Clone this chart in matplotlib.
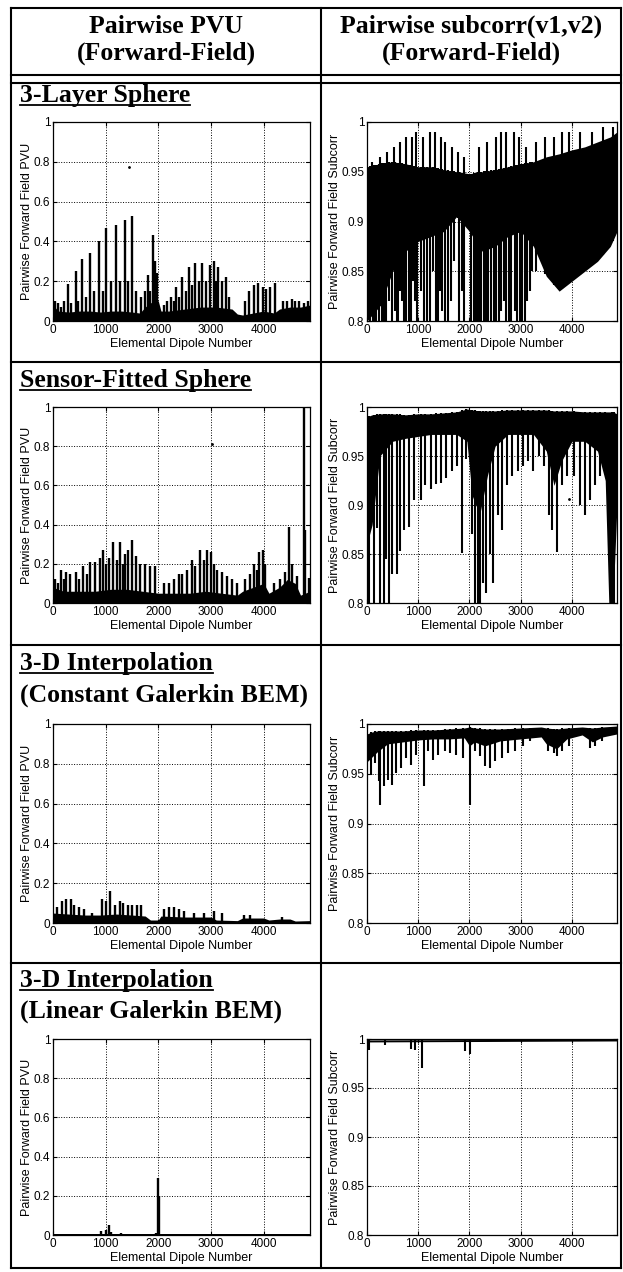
import numpy as np
import matplotlib
matplotlib.use('Agg')
import matplotlib.pyplot as plt
from matplotlib.lines import Line2D

plt.rcParams['font.family'] = ['Liberation Sans', 'DejaVu Sans']

W, H = 623, 1272

# x axis
x_max = 4880
x_ticks = [0, 1000, 2000, 3000, 4000]
x_tick_labels = ['0', '1000', '2000', '3000', '4000']
pvu_ticks = [0, 0.2, 0.4, 0.6, 0.8, 1.0]
pvu_tick_labels = ['0', '0.2', '0.4', '0.6', '0.8', '1']
sub_ticks = [0.8, 0.85, 0.9, 0.95, 1.0]
sub_tick_labels = ['0.8', '0.85', '0.9', '0.95', '1']

# ---- 3-layer sphere, PVU (dense floor + spikes) ----
l1_env_x = [0, 100, 300, 500, 700, 900, 1100, 1300, 1500, 1650, 1750, 1850, 1950, 2000, 2050,
            2200, 2500, 2800, 3100, 3400, 3500, 3600, 3800, 4000, 4200, 4300, 4500, 4700, 4880]
l1_env_y = [0.08, 0.05, 0.045, 0.05, 0.05, 0.045, 0.05, 0.05, 0.045, 0.04, 0.07, 0.09, 0.11, 0.1, 0.05,
            0.05, 0.06, 0.07, 0.07, 0.06, 0.035, 0.03, 0.04, 0.05, 0.04, 0.06, 0.07, 0.07, 0.08]
l1_spk_x = [40, 95, 150, 200, 285, 350, 430, 480, 550, 620, 696, 780, 867, 940, 1013, 1100, 1203, 1280,
            1361, 1430, 1494, 1580, 1680, 1740, 1804, 1850, 1899, 1940, 1981, 2100, 2170, 2234, 2290,
            2342, 2400, 2456, 2520, 2582, 2640, 2703, 2770, 2829, 2900, 2975, 3057, 3100, 3133, 3200,
            3278, 3350, 3639, 3722, 3810, 3892, 3987, 4051, 4127, 4209, 4370, 4450, 4530, 4600, 4680,
            4760, 4840]
l1_spk_y = [0.1, 0.09, 0.07, 0.1, 0.185, 0.09, 0.25, 0.1, 0.31, 0.12, 0.34, 0.15, 0.40, 0.15, 0.465, 0.2,
            0.48, 0.2, 0.51, 0.2, 0.53, 0.15, 0.12, 0.15, 0.23, 0.15, 0.43, 0.3, 0.24, 0.08, 0.1, 0.12,
            0.1, 0.17, 0.12, 0.22, 0.15, 0.27, 0.18, 0.29, 0.2, 0.29, 0.2, 0.28, 0.30, 0.2, 0.27, 0.2,
            0.22, 0.12, 0.10, 0.15, 0.18, 0.19, 0.17, 0.16, 0.17, 0.19, 0.1, 0.1, 0.11, 0.1, 0.1,
            0.09, 0.1]
l1_dot = (1442, 0.775)

# ---- 3-layer sphere, subcorr (dense band + dips + peaks) ----
r1_env_x = [0, 250, 500, 750, 1000, 1250, 1500, 1750, 2000, 2250, 2500, 2750, 3000, 3250, 3500,
            3750, 4000, 4250, 4500, 4750, 4880]
r1_hi = [0.955, 0.958, 0.96, 0.958, 0.955, 0.955, 0.952, 0.95, 0.948, 0.95, 0.952, 0.955, 0.958, 0.96,
         0.965, 0.968, 0.972, 0.975, 0.98, 0.985, 0.99]
r1_lo = [0.8, 0.815, 0.85, 0.87, 0.88, 0.885, 0.89, 0.905, 0.89, 0.87, 0.875, 0.885, 0.89, 0.875, 0.845,
         0.83, 0.84, 0.85, 0.86, 0.875, 0.89]
r1_dip_x = [65, 110, 150, 183, 240, 295, 340, 380, 430, 491, 540, 589, 610, 650, 690, 720, 770, 819, 860,
            900, 940, 982, 1050, 1113, 1180, 1231, 1290, 1342, 1390, 1420, 1473, 1520, 1572, 1630, 1700,
            1801, 1850, 1899, 2030, 2080, 2120, 2161, 2200, 2230, 2292, 2330, 2360, 2423, 2470, 2521,
            2580, 2619, 2670, 2718, 2770, 2816, 2880, 2934, 2980, 3026, 3080, 3130, 3180, 3230, 3300]
r1_dip_y = [0.8, 0.8, 0.8, 0.8, 0.8, 0.8, 0.8, 0.8, 0.82, 0.8, 0.81, 0.8, 0.8, 0.83, 0.82, 0.8, 0.8, 0.8,
            0.8, 0.84, 0.82, 0.8, 0.83, 0.8, 0.8, 0.8, 0.85, 0.8, 0.8, 0.83, 0.81, 0.8, 0.8, 0.82, 0.86,
            0.8, 0.83, 0.8, 0.8, 0.8, 0.8, 0.8, 0.8, 0.8, 0.8, 0.8, 0.8, 0.8, 0.8, 0.8,
            0.8, 0.81, 0.82, 0.8, 0.8, 0.8, 0.81, 0.8, 0.8, 0.8, 0.8, 0.82, 0.83, 0.85, 0.85]
r1_pk_x = [100, 250, 400, 530, 640, 760, 870, 960, 1090, 1230, 1330, 1440, 1530, 1660, 1770, 1900, 2180,
           2350, 2520, 2620, 2720, 2860, 2960, 3100, 3300, 3480, 3650, 3800, 3950, 4150, 4400, 4600, 4800]
r1_pk_y = [0.96, 0.965, 0.97, 0.975, 0.98, 0.985, 0.985, 0.99, 0.985, 0.99, 0.99, 0.985, 0.98, 0.975,
           0.97, 0.965, 0.975, 0.98, 0.985, 0.99, 0.99, 0.99, 0.985, 0.975, 0.98, 0.985, 0.985, 0.99,
           0.99, 0.99, 0.99, 0.995, 0.995]

# ---- sensor-fitted sphere, PVU ----
l2_env_x = [0, 200, 500, 800, 1100, 1400, 1700, 2000, 2300, 2600, 2900, 3200, 3500, 3600, 3800, 4000,
            4100, 4300, 4450, 4600, 4700, 4880]
l2_env_y = [0.08, 0.06, 0.06, 0.06, 0.07, 0.07, 0.06, 0.05, 0.05, 0.05, 0.06, 0.05, 0.04, 0.06, 0.08, 0.1,
            0.05, 0.08, 0.12, 0.1, 0.04, 0.06]
l2_spk_x = [44, 100, 152, 200, 253, 329, 443, 500, 570, 640, 709, 804, 886, 949, 1000, 1057, 1139, 1215,
            1278, 1330, 1373, 1418, 1500, 1582, 1658, 1753, 1848, 1943, 2101, 2196, 2291, 2386, 2449,
            2544, 2639, 2703, 2785, 2861, 2924, 3000, 3051, 3114, 3209, 3304, 3399, 3500, 3650, 3747,
            3810, 3873, 3905, 3987, 4032, 4190, 4316, 4411, 4475, 4538, 4633, 4759, 4791, 4854]
l2_spk_y = [0.12, 0.1, 0.17, 0.12, 0.16, 0.15, 0.16, 0.12, 0.19, 0.15, 0.21, 0.21, 0.23, 0.27, 0.2, 0.23,
            0.31, 0.22, 0.31, 0.2, 0.25, 0.27, 0.32, 0.24, 0.2, 0.2, 0.19, 0.19, 0.1, 0.1, 0.12, 0.15,
            0.15, 0.17, 0.22, 0.19, 0.27, 0.22, 0.27, 0.26, 0.2, 0.17, 0.16, 0.14, 0.12, 0.1, 0.12, 0.15,
            0.2, 0.17, 0.26, 0.27, 0.2, 0.1, 0.12, 0.16, 0.39, 0.2, 0.14, 1.0, 0.37, 0.13]
l2_dot = (3010, 0.81)

# ---- sensor-fitted sphere, subcorr ----
r2_env_x = [0, 100, 250, 500, 750, 1000, 1250, 1500, 1750, 1950, 2050, 2200, 2350, 2500, 2750, 3000,
            3250, 3500, 3650, 3800, 4000, 4250, 4500, 4650, 4720, 4800, 4880]
r2_hi = [0.99, 0.992, 0.993, 0.993, 0.992, 0.993, 0.993, 0.994, 0.995, 0.998, 0.997, 0.996, 0.996, 0.996,
         0.997, 0.997, 0.997, 0.997, 0.996, 0.996, 0.996, 0.995, 0.995, 0.995, 0.995, 0.995, 0.993]
r2_lo = [0.86, 0.88, 0.95, 0.965, 0.968, 0.97, 0.972, 0.972, 0.972, 0.965, 0.91, 0.89, 0.93, 0.96, 0.972,
         0.972, 0.972, 0.955, 0.92, 0.945, 0.965, 0.965, 0.955, 0.925, 0.8, 0.8, 0.9]
r2_dip_x = [46, 132, 198, 251, 330, 376, 429, 480, 580, 650, 730, 820, 920, 1050, 1140, 1250, 1350, 1440,
            1550, 1650, 1750, 1850, 1930, 2050, 2110, 2160, 2200, 2260, 2330, 2400, 2460, 2560, 2630,
            2740, 2840, 2940, 3040, 3140, 3240, 3350, 3450, 3560, 3620, 3700, 3800, 3900, 4050, 4150,
            4250, 4350, 4450, 4550, 4650, 4780, 4820]
r2_dip_y = [0.8, 0.8, 0.877, 0.8, 0.8, 0.845, 0.8, 0.83, 0.83, 0.853, 0.875, 0.878, 0.905, 0.905, 0.92,
            0.916, 0.921, 0.922, 0.928, 0.935, 0.94, 0.851, 0.947, 0.87, 0.8, 0.8, 0.8, 0.82, 0.81, 0.85,
            0.82, 0.89, 0.875, 0.92, 0.93, 0.935, 0.94, 0.945, 0.935, 0.95, 0.94, 0.89, 0.875, 0.852,
            0.92, 0.93, 0.93, 0.9, 0.89, 0.905, 0.92, 0.93, 0.945, 0.8, 0.8]
r2_dot = (3945, 0.906)

# ---- 3-D interpolation, constant Galerkin BEM, PVU ----
l3_env_x = [0, 300, 600, 900, 1200, 1500, 1750, 1850, 2000, 2050, 2500, 3000, 3100, 3500, 3600, 4000,
            4100, 4300, 4500, 4600, 4880]
l3_env_y = [0.05, 0.045, 0.04, 0.04, 0.045, 0.04, 0.035, 0.015, 0.015, 0.035, 0.03, 0.03, 0.015, 0.012,
            0.025, 0.025, 0.015, 0.02, 0.02, 0.01, 0.012]
l3_spk_x = [76, 171, 253, 342, 392, 487, 582, 741, 930, 1013, 1089, 1184, 1266, 1329, 1418, 1500, 1595,
            1671, 2101, 2196, 2291, 2386, 2481, 2671, 2861, 3051, 3209, 3620, 3747, 4348]
l3_spk_y = [0.08, 0.11, 0.12, 0.12, 0.09, 0.08, 0.07, 0.05, 0.12, 0.11, 0.16, 0.09, 0.11, 0.1, 0.09, 0.09,
            0.09, 0.09, 0.07, 0.08, 0.08, 0.07, 0.06, 0.05, 0.05, 0.06, 0.05, 0.04, 0.04, 0.03]

# ---- 3-D interpolation, constant Galerkin BEM, subcorr ----
r3_env_x = [0, 100, 200, 400, 700, 1000, 1300, 1600, 1900, 2000, 2100, 2300, 2600, 3000, 3400, 3500,
            3700, 3900, 4200, 4400, 4600, 4880]
r3_hi = [0.99, 0.992, 0.993, 0.993, 0.993, 0.994, 0.994, 0.995, 0.996, 0.997, 0.996, 0.995, 0.995, 0.996,
         0.997, 0.996, 0.995, 0.996, 0.997, 0.996, 0.997, 0.998]
r3_lo = [0.962, 0.967, 0.972, 0.98, 0.982, 0.984, 0.985, 0.985, 0.986, 0.978, 0.982, 0.978, 0.983, 0.985,
         0.987, 0.98, 0.975, 0.985, 0.989, 0.982, 0.987, 0.99]
r3_dip_x = [78, 157, 242, 261, 340, 418, 484, 569, 667, 765, 863, 961, 1111, 1190, 1288, 1386, 1516, 1614,
            1745, 1876, 2020, 2105, 2203, 2301, 2399, 2497, 2627, 2758, 2889, 3052, 3183, 3542, 3641,
            3706, 3804, 3935, 4359, 4458, 4588]
r3_dip_y = [0.949, 0.961, 0.943, 0.919, 0.938, 0.944, 0.939, 0.951, 0.956, 0.966, 0.959, 0.969, 0.938,
            0.973, 0.964, 0.969, 0.973, 0.971, 0.969, 0.966, 0.919, 0.973, 0.968, 0.958, 0.956, 0.963,
            0.966, 0.971, 0.973, 0.978, 0.983, 0.973, 0.971, 0.968, 0.973, 0.978, 0.976, 0.978, 0.983]

# ---- 3-D interpolation, linear Galerkin BEM ----
l4_env_x = [0, 4880]
l4_env_y = [0.004, 0.004]
l4_spk_x = [917, 1000, 1057, 1100, 1297, 1950, 2000, 2020]
l4_spk_y = [0.02, 0.025, 0.05, 0.015, 0.012, 0.01, 0.29, 0.2]
r4_env_x = [0, 4880]
r4_hi = [0.999, 1.0]
r4_lo = [0.997, 0.998]
r4_dip_x = [20, 39, 350, 857, 936, 1076, 1918, 2005]
r4_dip_y = [0.99, 0.989, 0.994, 0.99, 0.989, 0.97, 0.988, 0.985]

# table layout (pixels from top-left)
row_axes_y = [(122, 321), (407, 603), (724, 923), (1039, 1235)]
left_x = (53, 310)
right_x = (367, 617)
row_lines = [8, 75, 83, 362, 645, 963, 1268]
col_lines = [11, 321, 621]
row_titles = ['3-Layer Sphere', 'Sensor-Fitted Sphere', '3-D Interpolation', '3-D Interpolation']
row_title_y = [102, 387, 670, 987]
row_subs = ['', '', '(Constant Galerkin BEM)', '(Linear Galerkin BEM)']
row_sub_y = [0, 0, 702, 1018]


def rect(x, y):
    return [x[0] / W, 1 - y[1] / H, (x[1] - x[0]) / W, (y[1] - y[0]) / H]


def style(ax, ticks, labels, ylim, ylabel, ylab_x):
    ax.set_xlim(0, x_max)
    ax.set_ylim(*ylim)
    ax.set_xticks(x_ticks)
    ax.set_xticklabels(x_tick_labels)
    ax.set_yticks(ticks)
    ax.set_yticklabels(labels)
    ax.grid(True, linestyle=':', color='black', linewidth=0.7)
    ax.tick_params(direction='in', top=True, right=True, length=3, width=0.8,
                   labelsize=8.5, pad=2)
    for s in ax.spines.values():
        s.set_linewidth(0.9)
    ax.set_xlabel('Elemental Dipole Number', fontsize=9)
    ax.xaxis.set_label_coords(0.5, -0.085)
    ax.set_ylabel(ylabel, fontsize=9)
    ax.yaxis.set_label_coords(ylab_x, 0.5)


def pvu_panel(ax, env_x, env_y, spk_x, spk_y, dot=None):
    ax.fill_between(env_x, 0, env_y, color='black', linewidth=0)
    ax.vlines(spk_x, 0, spk_y, color='black', linewidth=1.7)
    if dot:
        ax.plot(*dot, 'k.', markersize=2)
    style(ax, pvu_ticks, pvu_tick_labels, (0, 1), 'Pairwise Forward Field PVU', -0.078)


def sub_panel(ax, env_x, lo, hi, dip_x, dip_y, pk_x=None, pk_y=None, dot=None):
    ax.fill_between(env_x, lo, hi, color='black', linewidth=0)
    ax.vlines(dip_x, dip_y, np.interp(dip_x, env_x, hi), color='black', linewidth=1.5)
    if pk_x:
        ax.vlines(pk_x, np.interp(pk_x, env_x, lo), pk_y, color='black', linewidth=1.5)
    if dot:
        ax.plot(*dot, 'k.', markersize=2)
    style(ax, sub_ticks, sub_tick_labels, (0.8, 1), 'Pairwise Forward Field Subcorr', -0.104)


fig = plt.figure(figsize=(W / 100, H / 100), dpi=100)

axs = [[fig.add_axes(rect(left_x, y)), fig.add_axes(rect(right_x, y))] for y in row_axes_y]

pvu_panel(axs[0][0], l1_env_x, l1_env_y, l1_spk_x, l1_spk_y, l1_dot)
sub_panel(axs[0][1], r1_env_x, r1_lo, r1_hi, r1_dip_x, r1_dip_y, r1_pk_x, r1_pk_y)
pvu_panel(axs[1][0], l2_env_x, l2_env_y, l2_spk_x, l2_spk_y, l2_dot)
sub_panel(axs[1][1], r2_env_x, r2_lo, r2_hi, r2_dip_x, r2_dip_y, dot=r2_dot)
pvu_panel(axs[2][0], l3_env_x, l3_env_y, l3_spk_x, l3_spk_y)
sub_panel(axs[2][1], r3_env_x, r3_lo, r3_hi, r3_dip_x, r3_dip_y)
pvu_panel(axs[3][0], l4_env_x, l4_env_y, l4_spk_x, l4_spk_y)
sub_panel(axs[3][1], r4_env_x, r4_lo, r4_hi, r4_dip_x, r4_dip_y)

# table grid
for y in row_lines:
    fig.add_artist(Line2D([col_lines[0] / W, col_lines[-1] / W], [1 - y / H] * 2,
                          color='black', linewidth=1.5))
for x in col_lines:
    fig.add_artist(Line2D([x / W] * 2, [1 - row_lines[0] / H, 1 - row_lines[-1] / H],
                          color='black', linewidth=1.5))

serif = dict(family='Liberation Serif', weight='bold', fontsize=18.5)
for cx, head in [(166, 'Pairwise PVU'), (471, 'Pairwise subcorr(v1,v2)')]:
    fig.text(cx / W, 1 - 33 / H, head, ha='center', va='baseline', **serif)
    fig.text(cx / W, 1 - 60 / H, '(Forward-Field)', ha='center', va='baseline', **serif)

titles = []
for t, ty, sub, sy in zip(row_titles, row_title_y, row_subs, row_sub_y):
    titles.append((fig.text(20 / W, 1 - ty / H, t, ha='left', va='baseline', **serif), ty))
    if sub:
        fig.text(20 / W, 1 - sy / H, sub, ha='left', va='baseline', **serif)

# underline the row titles
fig.canvas.draw()
renderer = fig.canvas.get_renderer()
for t, ty in titles:
    bb = t.get_window_extent(renderer)
    fig.add_artist(Line2D([bb.x0 / W, bb.x1 / W], [1 - (ty + 3) / H] * 2,
                          color='black', linewidth=1.3))

fig.savefig('out.png', dpi=100)
